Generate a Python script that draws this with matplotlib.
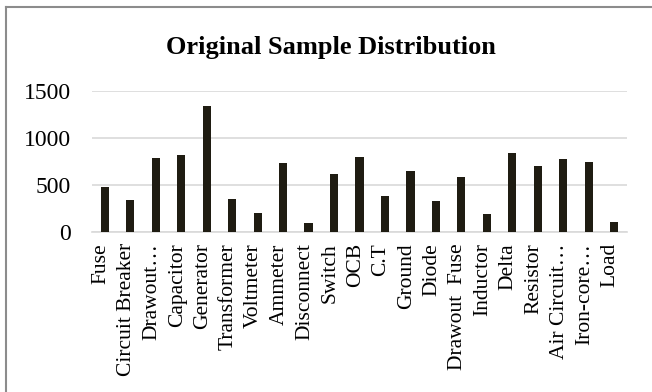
import matplotlib.pyplot as plt
import matplotlib.transforms as mtransforms
from matplotlib.lines import Line2D

plt.rcParams['font.family'] = ['Liberation Serif', 'DejaVu Serif']

categories = ["Fuse", "Circuit Breaker", "Drawout…", "Capacitor", "Generator",
              "Transformer", "Voltmeter", "Ammeter", "Disconnect", "Switch",
              "OCB", "C.T", "Ground", "Diode", "Drawout  Fuse", "Inductor",
              "Delta", "Resistor", "Air Circuit…", "Iron-core…", "Load"]
counts = [476, 338, 789, 818, 1337, 352, 207, 736, 93, 612,
          793, 384, 650, 335, 583, 196, 836, 697, 775, 746, 111]
yticks = [0, 500, 1000, 1500]

fig = plt.figure(figsize=(6.52, 3.92), dpi=100)
ax = fig.add_axes([0.1411, 0.408, 0.8206, 0.360])

x = range(len(categories))
ax.bar(x, counts, width=0.32, color='#1f1c12', zorder=3)

ax.set_xlim(-0.5, len(categories) - 0.5)
ax.set_ylim(0, 1500)
ax.set_yticks(yticks)
ax.set_xticks(list(x))
ax.set_xticklabels(categories, rotation=90, fontsize=15.5)
ax.tick_params(axis='y', labelsize=17, length=0, pad=15)
ax.tick_params(axis='x', length=0, pad=8)
ax.grid(axis='y', color='#d9d9d9', linewidth=1.2, zorder=0)
for s in ['top', 'right', 'left']:
    ax.spines[s].set_visible(False)
ax.spines['bottom'].set_color('#d9d9d9')
ax.spines['bottom'].set_linewidth(1.2)

# labels sit a little left of the bars, as in the original
shift = mtransforms.ScaledTranslation(-4 / 100, 0, fig.dpi_scale_trans)
for lbl in ax.get_xticklabels():
    lbl.set_transform(lbl.get_transform() + shift)

fig.text(0.508, 0.88, "Original Sample Distribution", ha='center', va='center',
         fontsize=19, fontweight='bold')

# outer chart border (only top and left show in the crop)
fig.add_artist(Line2D([6 / 652, 6 / 652], [0, 1 - 6.5 / 392], transform=fig.transFigure,
                      color='#8c8c8c', linewidth=1.5))
fig.add_artist(Line2D([6 / 652, 1], [1 - 6.5 / 392, 1 - 6.5 / 392], transform=fig.transFigure,
                      color='#8c8c8c', linewidth=1.5))

fig.savefig('out.png', dpi=100)
